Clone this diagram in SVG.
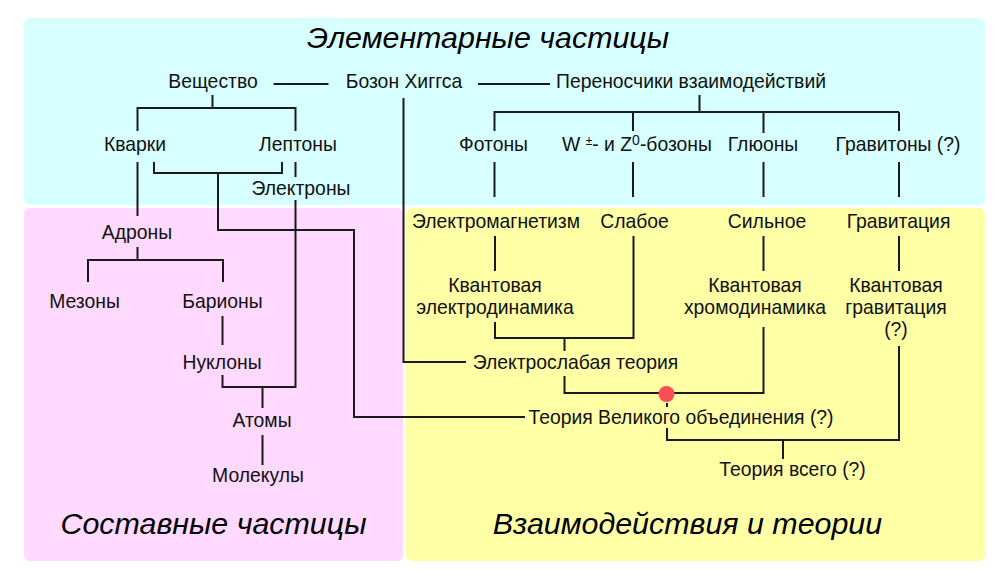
<svg xmlns="http://www.w3.org/2000/svg" width="997" height="570" viewBox="0 0 997 570">
<style>
text{font-family:"Liberation Sans",Arial,sans-serif;font-size:19.35px;fill:#111;text-anchor:middle}
.t{font-size:30.4px;font-style:italic;fill:#000}
.c path{fill:none;stroke:#1a1a1a;stroke-width:2}
</style>
<rect width="997" height="570" fill="#fff"/>
<g id="panels">
<rect x="24" y="18" width="961" height="187" rx="6" fill="#d7ffff"/>
<rect x="24" y="208" width="379" height="353" rx="6" fill="#ffd9ff"/>
<rect x="406" y="208" width="579" height="353" rx="6" fill="#ffffa6"/>
</g>
<g id="connectors" class="c"><path d="M273.500 84H328.500M478 84H550M212.500 95V108M137.500 131V108H295.500V131M137.500 162V216M154 162V173H282V162M218 173V230H354V417H525M295.500 162V177M295.500 200V387H222.500V375M262.500 387V408M262.500 435V465M137.500 247V260M88 282V260H223V282M222.500 316V345M403.500 98V362H466M699.500 95V112M494.500 131V112H899M633 112V131M763.500 112V133M899 112V131M494.500 162V197M633 162V197M763.500 162V197M899 162V197M495 236V271M633.500 236V338H495V322M763.500 236V271M899 236V271M564.500 338V351M564.500 376V393H763.500V327M667 403V407M667 428V440H899V346M783 440V459"/></g>
<circle id="unification-dot" cx="666.500" cy="394" r="8" fill="#ff4d55"/>
<g id="titles">
<text class="t" x="488" y="48">Элементарные частицы</text>
<text class="t" x="213.500" y="534">Составные частицы</text>
<text class="t" x="687.500" y="534">Взаимодействия и теории</text>
</g>
<g id="n-matter"><text x="213" y="87.500">Вещество</text></g>
<g id="n-higgs"><text x="404" y="87.500">Бозон Хиггса</text></g>
<g id="n-carriers"><text x="691" y="87.500">Переносчики взаимодействий</text></g>
<g id="n-quarks"><text x="135" y="150.700">Кварки</text></g>
<g id="n-leptons"><text x="298" y="150.700">Лептоны</text></g>
<g id="n-electrons"><text x="301" y="194.700">Электроны</text></g>
<g id="n-photons"><text x="493.500" y="150.700">Фотоны</text></g>
<g id="n-wz"><text x="637" y="150.700">W <tspan font-size="12" dy="-6">±</tspan><tspan dy="6">- и Z</tspan><tspan font-size="14" dy="-6">0</tspan><tspan dy="6">-бозоны</tspan></text></g>
<g id="n-gluons"><text x="763" y="150.700">Глюоны</text></g>
<g id="n-gravitons"><text x="898" y="150.700">Гравитоны (?)</text></g>
<g id="n-hadrons"><text x="137" y="238.700">Адроны</text></g>
<g id="n-mesons"><text x="84.500" y="307.700">Мезоны</text></g>
<g id="n-baryons"><text x="222.500" y="307.700">Барионы</text></g>
<g id="n-nucleons"><text x="222" y="368.700">Нуклоны</text></g>
<g id="n-atoms"><text x="262" y="426.700">Атомы</text></g>
<g id="n-molecules"><text x="258" y="481.700">Молекулы</text></g>
<g id="n-em"><text x="496" y="227.700">Электромагнетизм</text></g>
<g id="n-weak"><text x="634.500" y="227.700">Слабое</text></g>
<g id="n-strong"><text x="767" y="227.700">Сильное</text></g>
<g id="n-gravity"><text x="898.500" y="227.700">Гравитация</text></g>
<g id="n-qed"><text x="495" y="291.500">Квантовая</text><text x="495" y="313.500">электродинамика</text></g>
<g id="n-qcd"><text x="755" y="291.500">Квантовая</text><text x="755" y="313.500">хромодинамика</text></g>
<g id="n-qg"><text x="896" y="291.500">Квантовая</text><text x="896" y="313.500">гравитация</text><text x="896" y="336">(?)</text></g>
<g id="n-electroweak"><text x="575.500" y="368.500">Электрослабая теория</text></g>
<g id="n-gut"><text x="681" y="423.500">Теория Великого объединения (?)</text></g>
<g id="n-toe"><text x="792.500" y="475.500">Теория всего (?)</text></g>
</svg>
